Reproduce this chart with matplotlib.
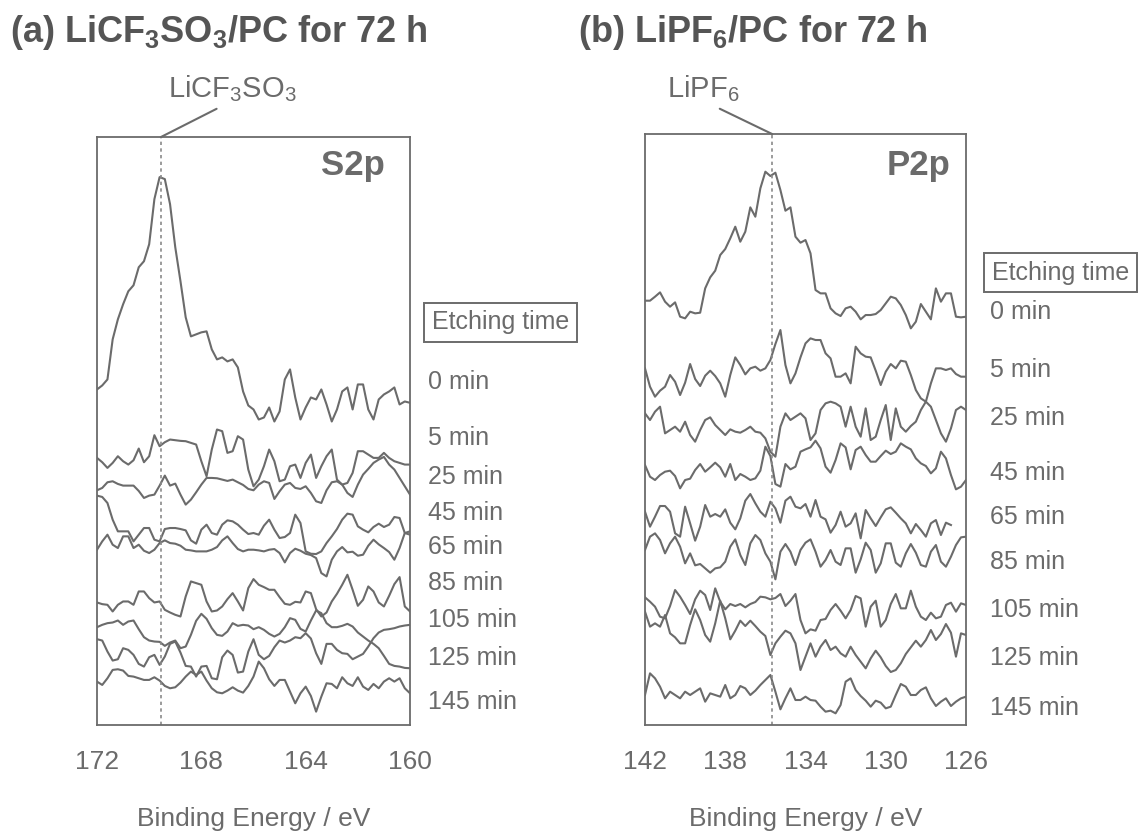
import numpy as np
import matplotlib
matplotlib.use("Agg")
import matplotlib.pyplot as plt

plt.rcParams['font.family'] = 'Liberation Sans'
plt.rcParams['mathtext.fontset'] = 'custom'
plt.rcParams['mathtext.rm'] = 'Liberation Sans'
plt.rcParams['mathtext.it'] = 'Liberation Sans:italic'
plt.rcParams['mathtext.bf'] = 'Liberation Sans:bold'

grey = '#6b6b6b'

# --- data (intensities in arbitrary units) ---
etch_times = ['0 min', '5 min', '25 min', '45 min', '65 min', '85 min', '105 min', '125 min', '145 min']

# (a) S2p, LiCF3SO3/PC, 172 -> 160 eV every 0.2 eV
energy_s2p = np.round(np.arange(172.0, 159.9, -0.2), 1)
peak_s2p = 169.55

s2p_0 = [1090, 1102, 1120, 1240, 1300, 1345, 1384, 1402, 1456, 1474, 1525, 1660,
         1726, 1720, 1645, 1516, 1414, 1306, 1249, 1255, 1261, 1264,
         1210, 1180, 1186, 1174, 1180, 1156, 1084, 1042, 1030, 1000,
         1006, 1036, 994, 1024, 1120, 1150, 1066, 1000, 1036, 1066,
         1060, 1090, 1045, 994, 1030, 1084, 1096, 1030, 1105, 1105,
         1030, 1000, 1060, 1075, 1084, 1096, 1045, 1054, 1050]
s2p_5 = [885, 872, 855, 870, 890, 875, 865, 878, 913, 872, 890, 953,
         920, 932, 940, 938, 936, 935, 930, 925, 875, 830,
         910, 970, 965, 900, 905, 950, 940, 850, 800, 820,
         860, 910, 875, 815, 820, 860, 865, 825, 870, 895,
         825, 860, 890, 910, 820, 805, 810, 840, 905, 905,
         895, 885, 885, 900, 885, 875, 870, 865, 865]
s2p_25 = [788, 795, 812, 815, 807, 802, 802, 802, 786, 765, 772, 775,
          802, 832, 802, 808, 775, 745, 760, 782, 805, 825,
          825, 824, 820, 816, 820, 812, 804, 792, 788, 805,
          815, 810, 762, 785, 805, 810, 795, 792, 800, 780,
          755, 750, 788, 812, 815, 805, 780, 768, 805, 835,
          852, 870, 880, 888, 865, 850, 825, 800, 775]
s2p_45 = [772, 768, 750, 700, 665, 665, 665, 635, 655, 675, 675, 640,
          635, 672, 675, 675, 672, 668, 638, 628, 670, 685,
          660, 655, 685, 698, 695, 685, 670, 657, 660, 655,
          682, 700, 670, 645, 648, 660, 715, 690, 605, 598,
          597, 605, 630, 650, 672, 700, 718, 715, 680, 670,
          662, 678, 688, 678, 685, 708, 705, 660, 655]
s2p_65 = [610, 635, 655, 625, 615, 650, 650, 615, 625, 607, 600, 610,
          630, 638, 630, 628, 622, 610, 608, 605, 605, 605,
          610, 618, 638, 650, 630, 612, 605, 610, 610, 608,
          605, 610, 612, 600, 572, 600, 613, 607, 598, 594,
          585, 540, 530, 580, 605, 618, 602, 604, 592, 595,
          622, 640, 626, 615, 603, 580, 615, 660, 665]
s2p_85 = [452, 447, 445, 425, 445, 455, 455, 445, 485, 485, 465, 452,
          455, 430, 422, 415, 410, 470, 515, 510, 505, 455,
          425, 428, 440, 462, 480, 455, 428, 495, 522, 505,
          498, 490, 490, 468, 448, 445, 454, 452, 485, 480,
          432, 410, 422, 455, 478, 505, 535, 490, 442, 460,
          500, 485, 452, 440, 472, 507, 528, 440, 425]
s2p_105 = [378, 385, 390, 392, 398, 385, 395, 398, 372, 348, 338, 335,
           334, 322, 332, 338, 315, 320, 355, 397, 418, 403,
           375, 355, 352, 365, 390, 382, 385, 383, 372, 378,
           370, 358, 350, 358, 378, 405, 400, 373, 365, 398,
           428, 420, 390, 378, 378, 382, 388, 380, 362, 350,
           338, 328, 315, 292, 268, 262, 260, 256, 255]
s2p_125 = [342, 338, 305, 278, 282, 315, 310, 295, 268, 260, 288, 295,
           265, 290, 328, 335, 302, 262, 260, 230, 260, 262,
           225, 222, 288, 308, 295, 242, 245, 305, 342, 295,
           282, 292, 318, 338, 332, 338, 348, 345, 360, 344,
           300, 268, 328, 328, 310, 300, 298, 282, 290, 298,
           320, 345, 362, 370, 372, 375, 380, 383, 385]
s2p_145 = [215, 205, 225, 250, 252, 248, 232, 230, 225, 220, 220, 228,
           218, 202, 195, 198, 212, 230, 245, 235, 245, 218,
           195, 183, 180, 188, 198, 188, 182, 202, 230, 275,
           255, 222, 202, 220, 220, 185, 150, 180, 200, 172,
           125, 170, 210, 208, 195, 228, 210, 202, 228, 200,
           190, 208, 195, 215, 225, 215, 225, 195, 180]

# (b) P2p, LiPF6/PC, 142 -> 126 eV every 0.25 eV
energy_p2p = np.linspace(142.0, 126.0, 65)
peak_p2p = 135.66

p2p_0 = [1458, 1458, 1470, 1483, 1455, 1440, 1453, 1410, 1405, 1425,
         1420, 1422, 1495, 1528, 1548, 1595, 1613, 1645, 1680, 1635,
         1665, 1738, 1710, 1795, 1845, 1832, 1842, 1790, 1728, 1738,
         1650, 1632, 1640, 1600, 1490, 1480, 1480, 1435, 1420, 1412,
         1435, 1440, 1425, 1402, 1415, 1415, 1418, 1430, 1450, 1470,
         1465, 1445, 1415, 1375, 1395, 1448, 1425, 1402, 1495, 1455,
         1480, 1480, 1410, 1408, 1410]
p2p_5 = [1255, 1200, 1170, 1188, 1200, 1235, 1215, 1175, 1212, 1268,
         1223, 1202, 1233, 1248, 1232, 1210, 1170, 1235, 1288, 1265,
         1237, 1255, 1260, 1248, 1255, 1280, 1328, 1370, 1265, 1210,
         1240, 1288, 1330, 1345, 1340, 1340, 1300, 1285, 1230, 1230,
         1240, 1210, 1320, 1300, 1290, 1288, 1248, 1205, 1245, 1268,
         1255, 1278, 1275, 1235, 1190, 1165, 1155, 1210, 1255, 1255,
         1250, 1255, 1238, 1230, 1230]
p2p_25 = [1120, 1100, 1125, 1140, 1060, 1070, 1080, 1065, 1095, 1055,
          1035, 1070, 1100, 1108, 1085, 1070, 1055, 1072, 1065, 1062,
          1070, 1080, 1065, 1062, 1045, 1005, 990, 1080, 1120, 1100, 1110,
          1120, 1105, 1040, 1060, 1130, 1150, 1155, 1150, 1140, 1080,
          1140, 1080, 1050, 1135, 1040, 1050, 1100, 1145, 1040, 1135,
          1080, 1065, 1082, 1095, 1130, 1155, 1140, 1100, 1060, 1035,
          1075, 1130, 1140, 1130]
p2p_45 = [965, 930, 920, 935, 945, 948, 932, 895, 920, 924,
          950, 968, 945, 958, 972, 958, 930, 968, 920, 938,
          930, 920, 925, 948, 1020, 992, 908, 900, 968, 952, 960,
          1005, 1012, 1018, 1038, 1015, 960, 942, 980, 1030, 1018,
          952, 1010, 1020, 995, 975, 975, 992, 1008, 998, 1005,
          1030, 1020, 1012, 985, 970, 962, 940, 955, 1005, 985,
          935, 892, 900, 920]
p2p_65 = [825, 780, 810, 842, 842, 825, 760, 750, 840, 790,
          738, 780, 845, 810, 818, 810, 832, 792, 772, 805,
          858, 878, 850, 825, 810, 855, 835, 792, 858, 870, 840,
          835, 848, 810, 860, 810, 802, 762, 785, 825, 780,
          790, 820, 745, 830, 805, 782, 808, 832, 838, 822,
          805, 790, 760, 788, 770, 750, 790, 800, 755, 792,
          785, np.nan, np.nan, np.nan]
p2p_85 = [710, 750, 760, 740, 700, 730, 750, 720, 670, 700,
          664, 668, 655, 642, 655, 658, 675, 720, 742, 695,
          665, 730, 755, 740, 700, 675, 622, 705, 728, 705, 665,
          710, 732, 742, 705, 660, 680, 710, 675, 665, 715,
          715, 642, 682, 732, 710, 642, 670, 730, 730, 672,
          660, 700, 728, 702, 665, 660, 705, 725, 675, 660,
          690, 725, 748, 750]
p2p_105 = [568, 555, 540, 510, 505, 542, 590, 570, 545, 518,
           562, 588, 575, 530, 595, 555, 532, 548, 542, 548,
           538, 548, 554, 570, 568, 562, 566, 578, 542, 558, 578,
           500, 460, 472, 468, 500, 503, 530, 548, 528, 505,
           530, 572, 565, 480, 540, 558, 480, 500, 548, 578,
           535, 535, 588, 540, 510, 500, 522, 505, 510, 545,
           552, 525, 550, 545]
p2p_125 = [525, 480, 490, 480, 515, 460, 448, 430, 430, 485,
           532, 500, 455, 435, 490, 558, 505, 442, 468, 498,
           482, 498, 482, 465, 452, 395, 430, 450, 468, 460, 430,
           350, 390, 430, 390, 420, 440, 410, 420, 400, 390,
           420, 395, 375, 355, 385, 408, 388, 362, 344, 350,
           370, 398, 418, 438, 420, 440, 470, 440, 458, 488,
           462, 390, 460, 455]
p2p_145 = [275, 340, 325, 300, 265, 285, 275, 265, 285, 275,
           285, 295, 255, 280, 275, 270, 305, 265, 275, 302,
           295, 275, 288, 305, 320, 335, 285, 232, 265, 295, 260,
           260, 270, 260, 258, 240, 225, 228, 220, 245, 315,
           325, 290, 272, 258, 240, 258, 252, 235, 240, 275,
           308, 300, 275, 275, 290, 298, 265, 242, 255, 265,
           242, 255, 265, 270]

s2p_curves = [s2p_0, s2p_5, s2p_25, s2p_45, s2p_65, s2p_85, s2p_105, s2p_125, s2p_145]
p2p_curves = [p2p_0, p2p_5, p2p_25, p2p_45, p2p_65, p2p_85, p2p_105, p2p_125, p2p_145]

# --- figure ---
fig = plt.figure(figsize=(11.44, 8.32), dpi=100)
ax_a = fig.add_axes([0.0848, 0.1286, 0.2736, 0.7067])
ax_b = fig.add_axes([0.5638, 0.1286, 0.2806, 0.7103])


def draw_panel(ax, energy, curves, peak, xlim, ylim, ticks):
    for c in curves:
        ax.plot(energy, c, color=grey, lw=1.5)
    ax.axvline(peak, color='#8a8a8a', lw=1.2, ls=(0, (2, 2)))
    ax.set_xlim(*xlim)
    ax.set_ylim(*ylim)
    ax.set_xticks(ticks)
    ax.set_yticks([])
    ax.tick_params(axis='x', length=0, pad=18, labelsize=19, labelcolor=grey)
    for s in ax.spines.values():
        s.set_color(grey)
        s.set_linewidth(1.3)
    ax.set_xlabel('Binding Energy / eV', fontsize=19, color=grey, labelpad=24)


draw_panel(ax_a, energy_s2p, s2p_curves, peak_s2p, (172, 160), (85, 1846), [172, 168, 164, 160])
draw_panel(ax_b, energy_p2p, p2p_curves, peak_p2p, (142, 126), (185, 1958), [142, 138, 134, 130, 126])

# core-level labels
ax_a.text(0.92, 0.98, 'S2p', transform=ax_a.transAxes, ha='right', va='top',
          fontsize=25, fontweight='bold', color=grey)
ax_b.text(0.95, 0.975, 'P2p', transform=ax_b.transAxes, ha='right', va='top',
          fontsize=25, fontweight='bold', color=grey)

# etching time labels
label_y_a = [0.583, 0.488, 0.422, 0.361, 0.303, 0.241, 0.179, 0.114, 0.039]
label_y_b = [0.699, 0.601, 0.519, 0.426, 0.352, 0.276, 0.195, 0.113, 0.029]
for t, ya, yb in zip(etch_times, label_y_a, label_y_b):
    ax_a.text(1.058, ya, t, transform=ax_a.transAxes, ha='left', va='center',
              fontsize=18, color=grey, clip_on=False)
    ax_b.text(1.075, yb, t, transform=ax_b.transAxes, ha='left', va='center',
              fontsize=18, color=grey, clip_on=False)

box = dict(boxstyle='square,pad=0.3', fc='white', ec=grey, lw=1.4)
ax_a.text(1.07, 0.685, 'Etching time', transform=ax_a.transAxes, ha='left', va='center',
          fontsize=18, color=grey, bbox=box)
ax_b.text(1.081, 0.765, 'Etching time', transform=ax_b.transAxes, ha='left', va='center',
          fontsize=18, color=grey, bbox=box)

# salt peak markers
ax_a.annotate(r'LiCF$_3$SO$_3$', xy=(peak_s2p, 1.0), xycoords=('data', 'axes fraction'),
              xytext=(0.203, 0.883), textcoords='figure fraction', ha='center', va='baseline',
              fontsize=21, color=grey,
              arrowprops=dict(arrowstyle='-', color=grey, lw=1.5, relpos=(0.45, 0.0),
                              shrinkA=3, shrinkB=0))
ax_b.annotate(r'LiPF$_6$', xy=(peak_p2p, 1.0), xycoords=('data', 'axes fraction'),
              xytext=(0.6145, 0.883), textcoords='figure fraction', ha='center', va='baseline',
              fontsize=21, color=grey,
              arrowprops=dict(arrowstyle='-', color=grey, lw=1.5, relpos=(0.6, 0.0),
                              shrinkA=3, shrinkB=0))

# panel titles
fig.text(0.009, 0.9495, r'(a) LiCF$_\mathbf{3}$SO$_\mathbf{3}$/PC for 72 h', fontsize=26,
         fontweight='bold', color='#555555', va='baseline')
fig.text(0.505, 0.9495, r'(b) LiPF$_\mathbf{6}$/PC for 72 h', fontsize=26,
         fontweight='bold', color='#555555', va='baseline')

fig.savefig('out.png', dpi=100)
